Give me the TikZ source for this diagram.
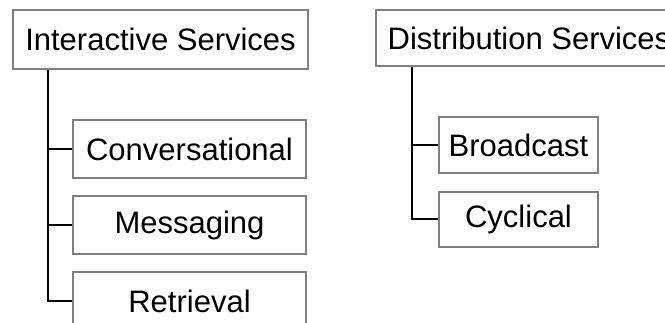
\documentclass[tikz,border=0pt]{standalone}
\usepackage{fontspec}
\setmainfont{Liberation Sans}
\usepackage{tikz}
\definecolor{rahmen}{RGB}{128,128,128}

\begin{document}
\begin{tikzpicture}[x=1pt, y=-1pt,
    box/.style={draw=rahmen, line width=1.5pt, fill=white, inner sep=0pt, font=\fontsize{31}{36}\selectfont},
    ast/.style={black, line width=2pt}]
    \useasboundingbox (0,0) rectangle (665,323);

    % Interactive
    \node[box, minimum width=295pt, minimum height=59pt] (iserv) at (160.5,39.5) {Interactive Services};
    \node[box, minimum width=233pt, minimum height=58pt] (conv) at (189.5,149) {Conversational};
    \node[box, minimum width=233pt, minimum height=58pt] (mess) at (189.5,225) {Messaging};
    \node[box, minimum width=233pt, minimum height=58pt] (retr) at (189.5,301) {Retrieval};

    \coordinate (itrunk) at ([xshift=36pt]iserv.south west);
    \draw[ast] (itrunk) |- (retr.west);
    \draw[ast] (itrunk |- conv.west) -- (conv.west);
    \draw[ast] (itrunk |- mess.west) -- (mess.west);

    % Distribution
    \node[box, minimum width=306pt, minimum height=56pt] (dserv) at (529,38) {Distribution Services};
    \node[box, minimum width=159pt, minimum height=56pt] (bcast) at (518.5,145) {Broadcast};
    \node[box, minimum width=159pt, minimum height=55pt] (cycl) at (518.5,219.5) {Cyclical};

    \coordinate (dtrunk) at ([xshift=37pt]dserv.south west);
    \draw[ast] (dtrunk) |- (cycl.west);
    \draw[ast] (dtrunk |- bcast.west) -- (bcast.west);

\end{tikzpicture}
\end{document}
